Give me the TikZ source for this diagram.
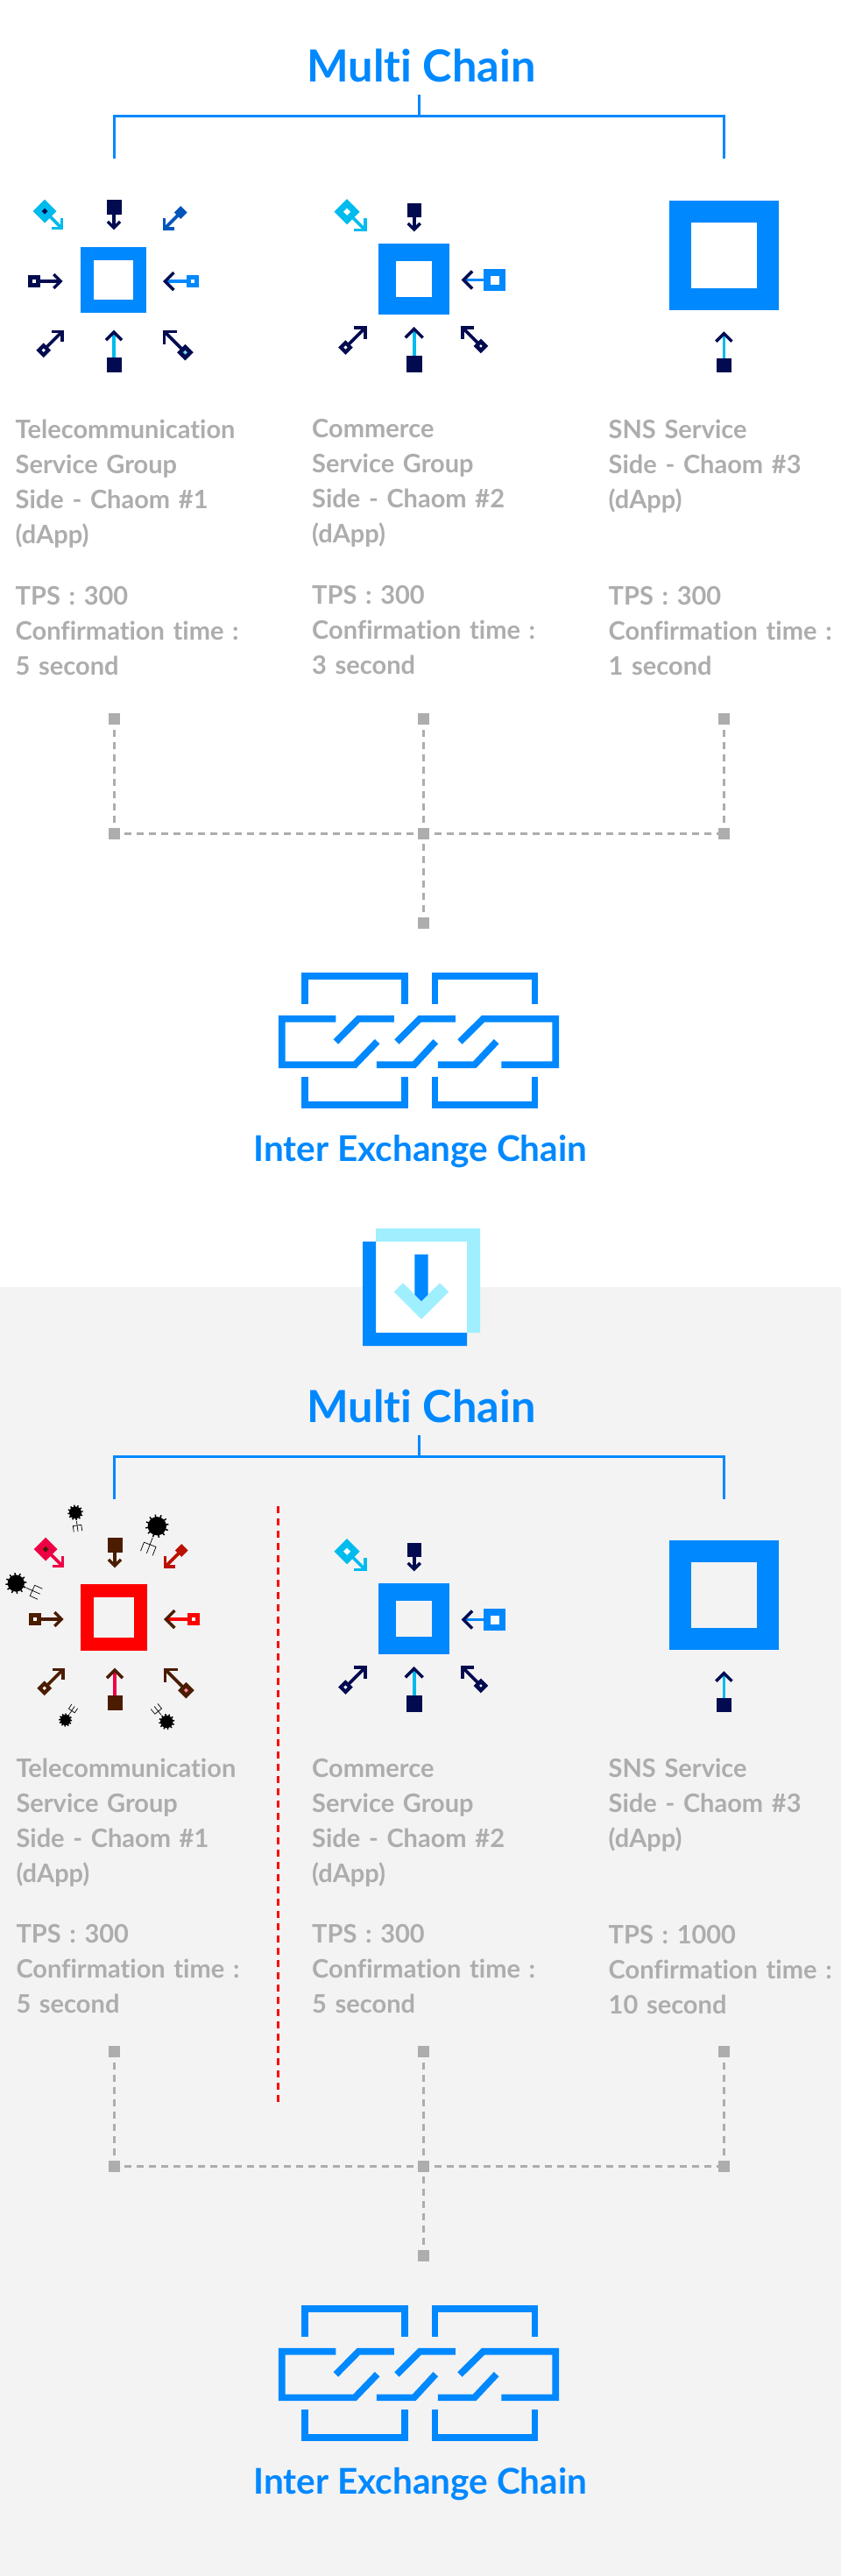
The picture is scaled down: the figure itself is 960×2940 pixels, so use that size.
\documentclass[tikz,border=0pt]{standalone}
\usepackage{fontspec}
\setmainfont[Ligatures=NoCommon]{Lato}
\definecolor{chainblue}{HTML}{0088FF}
\definecolor{inknavy}{HTML}{020B50}
\definecolor{inksky}{HTML}{00BBEE}
\definecolor{inkcobalt}{HTML}{0055BB}
\definecolor{inkseed}{HTML}{66DDEE}
\definecolor{paleblue}{HTML}{A0EFFF}
\definecolor{netgrey}{HTML}{ADADAD}
\definecolor{pagegrey}{HTML}{F3F3F3}
\definecolor{attackbrown}{HTML}{4B1C00}
\definecolor{attackrose}{HTML}{EE0044}
\definecolor{attackdark}{HTML}{BB1100}
\definecolor{attackred}{HTML}{FF0000}
\definecolor{attackseed}{HTML}{FF88AA}
\tikzset{
  titletext/.style={font=\fontsize{50.5}{56}\selectfont\bfseries, text=chainblue, inner sep=0, anchor=base},
  exchangetext/.style={font=\fontsize{40.5}{46}\selectfont\bfseries, text=chainblue, inner sep=0, anchor=base},
  infotext/.style={font=\fontsize{29}{40}\selectfont\bfseries, text=netgrey, inner sep=0, anchor=base west, text width=340pt, align=left},
  busline/.style={draw=chainblue, line width=3pt},
  linkline/.style={draw=chainblue, line width=7.7pt},
  netdot/.style={fill=netgrey, inner sep=0, outer sep=0, minimum size=13pt},
  netline/.style={draw=netgrey, line width=3pt, dash pattern=on 8pt off 6pt, shorten <=5.5pt},
}
% one pin: tip x/y, angle, length, half side, half hole, head, then the four colours
\newcommand{\keyicons}[1]{
  \foreach \tipx/\tipy/\ang/\len/\half/\hole/\head/\cbody/\chole/\cshaft/\chead in {#1}{
    \begin{scope}[shift={(\tipx,\tipy)},rotate=\ang]
      \draw[\cshaft, line width=3.6pt] (-\len,0) -- (-3,0);
      \draw[\chead, line width=3.4pt] (-2.4-\head,\head) -- (-2.4,0) -- (-2.4-\head,-\head);
      \fill[\cbody] (-\len-\half,-\half) rectangle (-\len+\half,\half);
      \fill[\chole] (-\len-\hole,-\hole) rectangle (-\len+\hole,\hole);
    \end{scope}
  }
}
\newcommand{\teleicons}[2]{
  \begin{scope}[shift={(#1,#2)}]
    \keyicons{72.3/262.3/-45/30/9.5/2.4/8.5/inksky/inknavy/inksky/inksky,
      130/262.3/-90/25.6/8.5/0/7/inknavy/inknavy/inknavy/inknavy,
      186/262.7/225/28.6/5.2/0/8.3/inkcobalt/inkcobalt/inkcobalt/inkcobalt,
      71.7/321/0/32.7/7/2.2/8/inknavy/white/inknavy/inknavy,
      186/321/180/33.8/7.2/2.3/10/inkblue/white/inkblue/inknavy,
      72.7/376.7/45/32.5/5.9/1.5/8.3/inknavy/white/inknavy/inknavy,
      130/376.7/90/39.7/8.5/0/9/inknavy/inknavy/inksky/inknavy,
      186/376.7/135/36/6.6/1.7/10/inknavy/inkseed/inknavy/inknavy}
  \end{scope}
}
\newcommand{\commerceicons}[1]{
  \begin{scope}[shift={(0,#1)}]
    \keyicons{418.7/264.3/-45/32/10.3/2.9/9.4/inksky/white/inksky/inksky,
      472.7/264.3/-90/24.5/8/0/7/inknavy/inknavy/inknavy/inknavy,
      526.7/319.5/180/37.8/12.5/5/10/chainblue/white/chainblue/inknavy,
      418.7/372.3/45/34.3/5.9/1.5/9.5/inknavy/white/inknavy/inknavy,
      472.7/373/90/42.5/9.2/0/10/inknavy/inknavy/inksky/inknavy,
      526.3/372.3/135/32/5.9/1.2/9/inknavy/white/inknavy/inknavy}
    \draw[chainblue, line width=20pt] (442,288) rectangle (503,349);
  \end{scope}
}
\newcommand{\snsicons}[1]{
  \begin{scope}[shift={(0,#1)}]
    \keyicons{826.4/378.3/90/38.5/8.2/0/9/inknavy/inknavy/inksky/inknavy}
    \draw[chainblue, line width=25pt] (776.5,241.5) rectangle (876.5,341.5);
  \end{scope}
}
% bracket below the title
\newcommand{\chainbracket}[2]{
  \node[titletext] (#1title) at (481,#2+93) {Multi Chain};
  \coordinate (#1stem) at (478.5,#2+108);
  \coordinate (#1join) at (478.5,#2+132.5);
  \coordinate (#1left) at (130.5,#2+132.5);
  \coordinate (#1right) at (826.5,#2+132.5);
  \coordinate (#1leftend) at (130.5,#2+181);
  \coordinate (#1rightend) at (826.5,#2+181);
  \draw[busline] (#1stem) -- (#1join);
  \draw[busline] (#1leftend) -- (#1left) -- (#1right) -- (#1rightend);
}
% dashed net above the exchange chain
\newcommand{\chainnet}[2]{
  \node[netdot] (#1a) at (130,#2+820.5) {};
  \node[netdot] (#1b) at (483.5,#2+820.5) {};
  \node[netdot] (#1c) at (826,#2+820.5) {};
  \node[netdot] (#1d) at (130,#2+951.3) {};
  \node[netdot] (#1e) at (483.5,#2+951.3) {};
  \node[netdot] (#1f) at (826,#2+951.3) {};
  \node[netdot] (#1g) at (483.5,#2+1053.3) {};
  \draw[netline] (#1a) -- (#1d);
  \draw[netline] (#1b) -- (#1e);
  \draw[netline] (#1c) -- (#1f);
  \draw[netline] (#1d) -- (#1e);
  \draw[netline] (#1e) -- (#1f);
  \draw[netline] (#1e) -- (#1g);
}
\newcommand{\chainlinks}[2]{
  \begin{scope}[shift={(300,#2+1080)},x=0.3333pt,y=-0.3333pt]
    \draw[linkline] (144.5,198) -- (144.5,101.5) -- (486.5,101.5) -- (486.5,198);
    \draw[linkline] (589.5,198) -- (589.5,101.5) -- (931.5,101.5) -- (931.5,198);
    \draw[linkline] (144.5,446) -- (144.5,543) -- (486.5,543) -- (486.5,446);
    \draw[linkline] (589.5,446) -- (589.5,543) -- (931.5,543) -- (931.5,446);
    \draw[linkline] (250,248) -- (65,248) -- (65,406) -- (315,406) -- (392,326);
    \draw[linkline] (250,327) -- (328,248) -- (450,248);
    \draw[linkline] (459,327) -- (538,248) -- (660,248);
    \draw[linkline] (390,406) -- (518,406) -- (592,326);
    \draw[linkline] (675,327) -- (755,248) -- (1003,248) -- (1003,406) -- (817,406);
    \draw[linkline] (600,406) -- (725,406) -- (800,326);
  \end{scope}
  \node[exchangetext] (#1name) at (480,#2+1325) {Inter Exchange Chain};
}
\begin{document}
\begin{tikzpicture}[x=1pt,y=-1pt]
  \useasboundingbox (0,0) rectangle (960,2940);
  \colorlet{inkblue}{chainblue}
  \fill[pagegrey] (0,1469) rectangle (960,2940);

  % Upper half
  \chainbracket{up}{0}
  \draw[chainblue, line width=15pt] (99.2,289.2) rectangle (159.2,349.7);
  \teleicons{0}{0}
  \commerceicons{0}
  \snsicons{0}
  \node[infotext] (uptele) at (17.5,500) {Telecommunication\\Service Group\\Side - Chaom \#1\\(dApp)};
  \node[infotext] (uptelerate) at (17.5,690) {TPS : 300\\Confirmation time :\\5 second};
  \node[infotext] (upshop) at (356,499) {Commerce\\Service Group\\Side - Chaom \#2\\(dApp)};
  \node[infotext] (upshoprate) at (356,689) {TPS : 300\\Confirmation time :\\3 second};
  \node[infotext] (upsns) at (694.5,500) {SNS Service\\Side - Chaom \#3\\(dApp)};
  \node[infotext] (upsnsrate) at (694.5,690) {TPS : 300\\Confirmation time :\\1 second};
  \chainnet{upnet}{0}
  \chainlinks{uplink}{0}

  % Arrow between the halves
  \fill[white] (429,1417) rectangle (533,1521);
  \fill[paleblue] (429,1402) -- (548,1402) -- (548,1521) -- (533,1521) -- (533,1417) -- (429,1417) -- cycle;
  \fill[chainblue] (414,1417) -- (429,1417) -- (429,1521) -- (533,1521) -- (533,1536) -- (414,1536) -- cycle;
  \fill[paleblue] (449.7,1474.3) -- (460,1464.3) -- (481,1485) -- (502,1464.3) -- (512.3,1474.3) -- (481,1505.7) -- cycle;
  \fill[chainblue] (473.3,1431.7) -- (488.7,1431.7) -- (488.7,1477.3) -- (481,1485) -- (473.3,1477.3) -- cycle;

  % Lower half
  \chainbracket{low}{1530}
  \draw[attackred, line width=15pt] (99.8,1815.8) rectangle (160.5,1876.8);
  \begingroup
    \colorlet{inknavy}{attackbrown}
    \colorlet{inksky}{attackrose}
    \colorlet{inkcobalt}{attackdark}
    \colorlet{inkblue}{attackred}
    \colorlet{inkseed}{attackseed}
    \teleicons{1}{1527}
  \endgroup
  % bombs: centre x/y, radius, angle of the trident
  \foreach \bx/\by/\br/\bang in {86/1726.3/8.7/-82, 179.3/1741.7/13.3/-111, 18.3/1807/12/-24, 74.7/1963/7.5/56, 190.3/1965/9/129}{
    \begin{scope}[shift={(\bx,\by)},rotate=\bang]
      \fill[black] (0,0) circle[radius=\br*0.8];
      \foreach \spk in {0,30,...,330}
        \draw[black, line width=1.5pt] (0,0) -- (\spk:\br);
      \draw[black, line width=0.7pt] (\br+1,0) -- (\br*2.5,0);
      \draw[black, line width=0.7pt] (\br*2.5,\br*0.55) -- (\br*1.7,\br*0.55) -- (\br*1.7,-\br*0.55) -- (\br*2.5,-\br*0.55);
    \end{scope}
  }
  \commerceicons{1529}
  \snsicons{1529}
  \draw[attackred, line width=3pt, dash pattern=on 8pt off 6pt] (317.3,1719) -- (317.3,2399);
  \node[infotext] (lowtele) at (18.3,2028.3) {Telecommunication\\Service Group\\Side - Chaom \#1\\(dApp)};
  \node[infotext] (lowtelerate) at (18.3,2217.5) {TPS : 300\\Confirmation time :\\5 second};
  \node[infotext] (lowshop) at (356,2028.3) {Commerce\\Service Group\\Side - Chaom \#2\\(dApp)};
  \node[infotext] (lowshoprate) at (356,2217.5) {TPS : 300\\Confirmation time :\\5 second};
  \node[infotext] (lowsns) at (694.5,2028.7) {SNS Service\\Side - Chaom \#3\\(dApp)};
  \node[infotext] (lowsnsrate) at (694.5,2218.5) {TPS : 1000\\Confirmation time :\\10 second};
  \chainnet{lownet}{1521}
  \chainlinks{lowlink}{1521}
\end{tikzpicture}
\end{document}
